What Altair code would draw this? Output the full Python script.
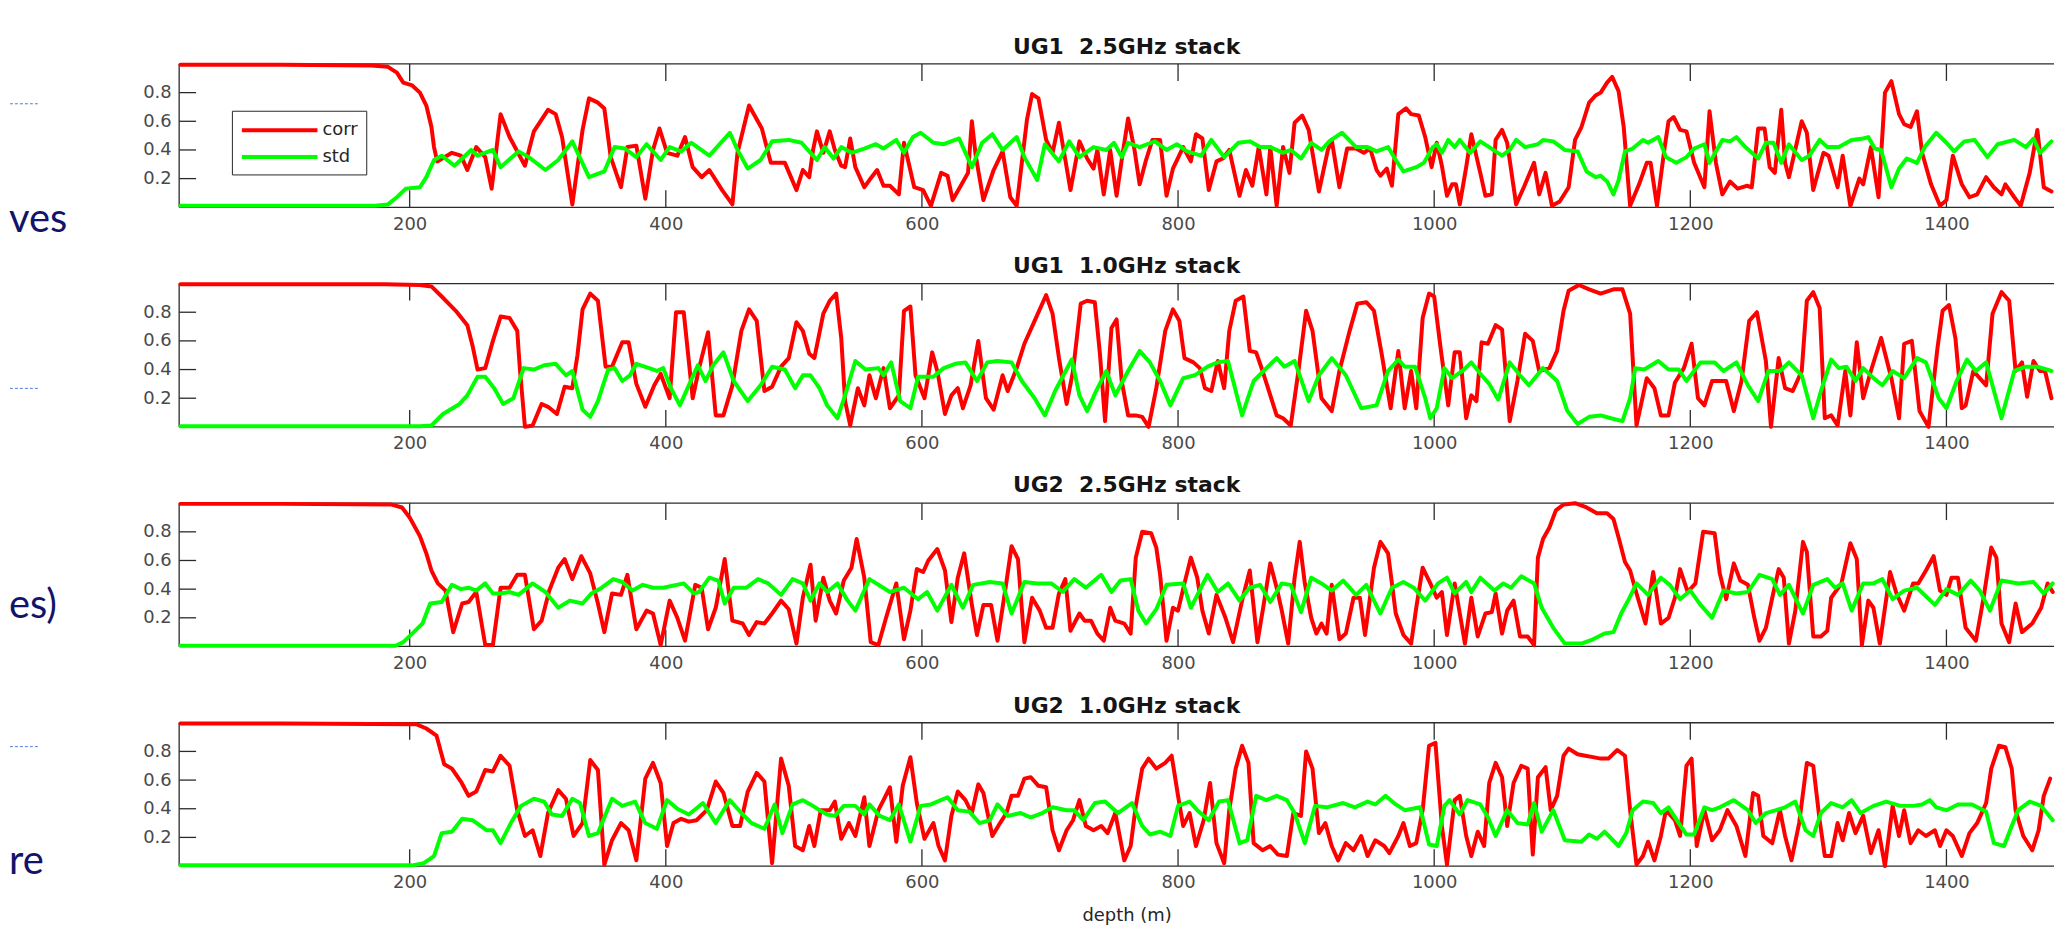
import altair as alt
import pandas as pd

# ---------------- data ----------------
X_DOMAIN = [20, 1484]
X_TICKS = [200, 400, 600, 800, 1000, 1200, 1400]
Y_TICKS = [0.2, 0.4, 0.6, 0.8]
TITLES = ["UG1\u00a0 2.5GHz stack", "UG1\u00a0 1.0GHz stack", "UG2\u00a0 2.5GHz stack", "UG2\u00a0 1.0GHz stack"]
SERIES = ["corr", "std"]
COLORS = ["#ff0000", "#00ff00"]
X_TITLE = "depth (m)"
SIDE_TEXT = ["ves", "es)", "re"]

# (depth, value) pairs
UG1_25_CORR = [(21, .995), (100, .995), (170, .99), (183, .98), (190, .94), (195, .87), (202, .85), (208, .80), (213, .71),
    (217, .56), (219, .42), (221.5, .32), (233, .38), (240, .36), (245, .26), (252, .42), (259, .35), (264, .13), (271, .65),
    (278, .49), (290, .29), (297, .53), (308, .68), (314, .65), (319, .49), (327, .02), (335, .54), (340, .76), (347, .73),
    (352, .69), (357, .35), (365, .14), (370, .42), (377, .43), (384, .06), (390, .40), (395, .55), (401, .38), (409, .36),
    (415, .49), (421, .28), (428, .21), (434, .26), (444, .12), (452, .02), (456, .38), (465, .71), (475, .55), (482, .31),
    (493, .31), (502, .12), (507, .26), (512, .21), (515, .40), (518, .53), (523, .38), (528, .53), (532, .40), (537, .29),
    (540, .28), (544, .48), (548, .28), (555, .14), (559, .19), (565, .26), (570, .15), (575, .15), (582, .09), (586, .45),
    (594, .14), (601, .12), (607, .01), (615, .24), (620, .22), (624, .05), (631, .16), (636, .24), (639, .60), (642, .36),
    (648, .05), (656, .26), (663, .39), (669, .07), (674, .01), (682, .61), (686, .79), (691, .76), (697, .47), (702, .38),
    (707, .59), (712, .33), (716, .12), (723, .46), (729, .34), (734, .27), (737, .40), (742, .09), (747, .40), (752, .08),
    (756, .33), (761, .62), (766, .40), (770, .16), (775, .33), (780, .47), (786, .47), (791, .08), (796, .27), (804, .42),
    (810, .32), (814, .51), (819, .48), (824, .12), (830, .32), (835, .34), (840, .40), (848, .08), (853, .26), (858, .15),
    (863, .42), (869, .09), (872, .42), (877, .01), (882, .42), (887, .24), (891, .59), (897, .64), (902, .54), (910, .11),
    (917, .40), (920, .47), (926, .14), (932, .41), (939, .41), (945, .38), (950, .41), (955, .26), (958, .22), (963, .27),
    (967, .15), (972, .65), (978, .69), (982, .65), (988, .64), (993, .49), (998, .28), (1002, .45), (1006, .29), (1010, .08),
    (1014, .16), (1017, .16), (1020, .02), (1025, .28), (1029, .51), (1036, .24), (1040, .08), (1045, .09), (1048, .47),
    (1053, .54), (1057, .45), (1064, .02), (1070, .14), (1078, .31), (1082, .09), (1087, .24), (1092, .01), (1098, .04),
    (1105, .14), (1110, .47), (1115, .56), (1121, .73), (1126, .78), (1130, .80), (1135, .87), (1139, .91), (1144, .81),
    (1148, .56), (1153, .01), (1160, .16), (1166, .31), (1169, .31), (1174, .01), (1180, .42), (1183, .60), (1187, .63),
    (1192, .54), (1197, .53), (1203, .31), (1211, .14), (1215, .67), (1220, .31), (1225, .09), (1231, .18), (1237, .13),
    (1244, .15), (1248, .14), (1253, .55), (1258, .55), (1262, .28), (1266, .24), (1271, .68), (1274, .31), (1277, .21),
    (1287, .60), (1291, .52), (1296, .12), (1304, .38), (1308, .36), (1315, .14), (1319, .36), (1325, .01), (1332, .20),
    (1335, .16), (1341, .42), (1347, .07), (1352, .80), (1357, .88), (1363, .65), (1367, .58), (1372, .56), (1377, .67),
    (1381, .38), (1388, .16), (1395, .01), (1400, .05), (1405, .36), (1412, .16), (1418, .07), (1424, .09), (1431, .21),
    (1437, .14), (1443, .09), (1446, .16), (1453, .07), (1458, .01), (1465, .24), (1471, .54), (1476, .14), (1482, .11)]

UG1_25_STD = [(21, .01), (100, .01), (173, .01), (183, .02), (190, .07), (197, .13), (208, .14), (213, .21), (219, .33),
    (225, .36), (235, .29), (241, .34), (248, .40), (253, .36), (265, .40), (271, .28), (285, .39), (293, .35), (306, .26),
    (316, .33), (327, .46), (340, .21), (352, .25), (360, .42), (368, .41), (377, .35), (385, .44), (396, .33), (403, .42),
    (412, .39), (420, .45), (434, .36), (444, .46), (450, .52), (456, .40), (464, .27), (474, .33), (483, .46), (496, .47),
    (506, .45), (513, .38), (518, .33), (524, .42), (531, .34), (537, .42), (545, .38), (555, .41), (564, .44), (570, .41),
    (580, .47), (586, .38), (593, .49), (599, .52), (609, .45), (617, .44), (629, .48), (639, .28), (647, .45), (655, .51),
    (663, .40), (674, .49), (680, .35), (690, .19), (696, .44), (707, .32), (715, .46), (723, .35), (734, .42), (744, .40),
    (750, .45), (756, .35), (761, .45), (770, .42), (782, .46), (791, .40), (799, .44), (807, .39), (818, .36), (826, .47),
    (836, .35), (847, .45), (856, .46), (864, .42), (872, .42), (882, .38), (888, .40), (896, .34), (904, .45), (912, .40),
    (918, .46), (928, .52), (939, .42), (948, .42), (955, .39), (964, .42), (970, .33), (976, .25), (986, .28), (992, .31),
    (999, .42), (1002, .44), (1006, .38), (1011, .47), (1016, .42), (1020, .47), (1028, .38), (1036, .46), (1043, .42),
    (1053, .36), (1059, .40), (1064, .47), (1071, .42), (1081, .44), (1085, .47), (1093, .46), (1102, .40), (1112, .39),
    (1119, .25), (1126, .21), (1130, .22), (1135, .18), (1140, .09), (1144, .19), (1149, .39), (1155, .41), (1163, .47),
    (1167, .45), (1175, .49), (1181, .35), (1189, .31), (1197, .35), (1203, .41), (1211, .44), (1215, .31), (1225, .47),
    (1231, .46), (1236, .49), (1243, .42), (1253, .34), (1259, .45), (1265, .45), (1271, .31), (1277, .44), (1287, .33),
    (1293, .36), (1301, .47), (1307, .42), (1316, .42), (1326, .47), (1335, .48), (1339, .49), (1344, .41), (1349, .40),
    (1357, .14), (1363, .27), (1369, .34), (1377, .31), (1383, .42), (1392, .52), (1400, .45), (1406, .39), (1414, .46),
    (1422, .47), (1432, .35), (1440, .44), (1453, .47), (1462, .42), (1468, .48), (1473, .38), (1482, .46)]

UG1_10_CORR = [(21, .995), (100, .995), (180, .995), (208, .99), (217, .98), (225, .91), (236, .81), (245, .71), (249, .57),
    (253, .40), (259, .41), (265, .60), (271, .77), (278, .76), (284, .67), (286, .41), (290, .00), (296, .01), (303, .16),
    (308, .14), (315, .09), (321, .28), (327, .27), (331, .50), (335, .82), (341, .93), (347, .88), (353, .42), (358, .42),
    (366, .59), (371, .59), (377, .30), (384, .14), (391, .29), (396, .37), (403, .20), (408, .80), (414, .80), (421, .20),
    (426, .41), (433, .66), (439, .08), (445, .08), (452, .29), (459, .67), (465, .82), (471, .74), (477, .25), (483, .28),
    (490, .42), (496, .48), (502, .73), (507, .67), (512, .51), (516, .48), (523, .79), (528, .88), (533, .93), (537, .62),
    (540, .18), (544, .01), (550, .27), (555, .15), (559, .36), (564, .20), (570, .41), (575, .13), (582, .22), (586, .81),
    (591, .84), (595, .36), (602, .20), (608, .52), (612, .39), (618, .09), (623, .22), (628, .27), (632, .13), (638, .29),
    (644, .60), (650, .20), (656, .12), (663, .36), (667, .25), (674, .41), (680, .58), (688, .74), (697, .92), (702, .79),
    (707, .48), (713, .16), (718, .39), (724, .86), (729, .88), (735, .87), (739, .51), (743, .04), (748, .69), (752, .75),
    (756, .32), (761, .08), (767, .08), (772, .07), (777, .00), (783, .27), (790, .67), (796, .82), (801, .74), (805, .48),
    (812, .45), (817, .41), (821, .27), (826, .25), (831, .46), (836, .27), (840, .67), (845, .88), (851, .91), (856, .53),
    (861, .52), (866, .39), (871, .25), (877, .08), (882, .06), (888, .01), (894, .39), (900, .81), (905, .67), (912, .20),
    (920, .11), (926, .39), (934, .67), (940, .86), (947, .87), (953, .81), (959, .51), (966, .13), (972, .53), (977, .13),
    (982, .39), (986, .13), (991, .76), (996, .93), (1000, .91), (1005, .55), (1011, .15), (1016, .52), (1020, .52),
    (1025, .06), (1029, .22), (1033, .18), (1037, .59), (1042, .58), (1048, .71), (1053, .68), (1059, .04), (1065, .32),
    (1071, .65), (1077, .60), (1082, .39), (1090, .41), (1096, .53), (1101, .81), (1105, .95), (1113, .99), (1121, .96),
    (1130, .93), (1140, .96), (1147, .96), (1153, .79), (1158, .01), (1166, .34), (1172, .27), (1177, .08), (1183, .08),
    (1188, .31), (1195, .41), (1201, .58), (1206, .20), (1211, .15), (1217, .32), (1222, .32), (1228, .32), (1234, .11),
    (1240, .32), (1246, .74), (1252, .80), (1259, .46), (1263, .00), (1269, .48), (1274, .27), (1280, .25), (1287, .39),
    (1291, .88), (1296, .94), (1301, .83), (1305, .06), (1310, .08), (1315, .01), (1321, .39), (1325, .08), (1330, .59),
    (1335, .20), (1341, .39), (1349, .62), (1357, .34), (1363, .06), (1367, .58), (1373, .60), (1379, .11), (1386, .00),
    (1393, .55), (1397, .81), (1402, .85), (1407, .62), (1412, .13), (1415, .15), (1421, .39), (1431, .29), (1436, .79),
    (1443, .94), (1449, .88), (1454, .39), (1459, .45), (1463, .21), (1468, .46), (1473, .39), (1477, .39), (1482, .20)]

UG1_10_STD = [(21, .005), (100, .005), (208, .005), (217, .01), (226, .09), (239, .16), (245, .22), (253, .35), (259, .35),
    (266, .27), (273, .16), (281, .20), (289, .41), (297, .40), (305, .43), (314, .44), (322, .36), (327, .39), (335, .12),
    (341, .07), (347, .18), (355, .40), (360, .41), (366, .32), (372, .36), (377, .44), (387, .41), (393, .39), (398, .41),
    (404, .27), (411, .15), (417, .27), (425, .43), (431, .32), (437, .43), (445, .52), (453, .32), (464, .18), (474, .29),
    (483, .42), (493, .40), (501, .27), (507, .36), (513, .36), (520, .27), (526, .15), (534, .06), (540, .22), (548, .46),
    (556, .40), (566, .41), (570, .36), (576, .45), (583, .18), (591, .13), (597, .35), (609, .35), (617, .41), (626, .44),
    (634, .45), (643, .32), (651, .45), (659, .46), (670, .45), (678, .32), (688, .20), (696, .08), (704, .25), (717, .47),
    (723, .22), (729, .11), (736, .25), (744, .39), (751, .22), (761, .39), (770, .53), (778, .45), (786, .32), (794, .15),
    (804, .34), (813, .36), (823, .42), (831, .45), (839, .46), (850, .08), (859, .32), (869, .41), (877, .48), (883, .42),
    (891, .46), (902, .18), (910, .36), (920, .48), (931, .36), (943, .13), (955, .15), (964, .39), (972, .47), (977, .42),
    (985, .42), (993, .20), (997, .06), (1002, .13), (1008, .41), (1014, .34), (1022, .39), (1029, .45), (1037, .36),
    (1043, .30), (1050, .19), (1059, .45), (1067, .36), (1074, .29), (1085, .41), (1096, .32), (1104, .11), (1112, .02),
    (1121, .07), (1130, .08), (1138, .06), (1147, .04), (1153, .20), (1157, .41), (1164, .40), (1175, .46), (1183, .40),
    (1191, .40), (1197, .32), (1208, .45), (1219, .45), (1226, .39), (1236, .45), (1245, .29), (1253, .18), (1261, .39),
    (1270, .39), (1277, .45), (1287, .36), (1296, .06), (1302, .25), (1310, .47), (1316, .41), (1322, .42), (1329, .32),
    (1335, .41), (1343, .34), (1350, .29), (1358, .39), (1367, .34), (1377, .48), (1384, .45), (1394, .20), (1400, .13),
    (1408, .32), (1416, .47), (1423, .39), (1431, .45), (1443, .06), (1453, .39), (1462, .42), (1471, .42), (1482, .39)]

UG2_25_CORR = [(21, .995), (100, .995), (186, .99), (194, .97), (200, .90), (208, .77), (213, .65), (217, .53), (222, .44),
    (228, .39), (234, .10), (241, .30), (246, .31), (252, .38), (259, .01), (265, .01), (271, .41), (278, .41), (284, .50),
    (290, .50), (297, .12), (303, .18), (309, .39), (316, .55), (321, .61), (327, .47), (334, .63), (341, .51), (347, .30),
    (352, .10), (358, .37), (365, .36), (370, .50), (377, .12), (385, .25), (390, .23), (396, .01), (403, .32), (409, .20),
    (415, .04), (423, .43), (428, .41), (433, .12), (439, .27), (446, .61), (452, .18), (460, .16), (465, .08), (471, .17),
    (477, .16), (483, .23), (490, .32), (496, .26), (502, .02), (507, .34), (513, .57), (517, .18), (523, .48), (528, .32),
    (533, .23), (539, .46), (545, .55), (549, .75), (555, .48), (560, .03), (566, .01), (572, .20), (580, .44), (586, .05),
    (591, .25), (596, .54), (601, .52), (605, .60), (612, .68), (618, .53), (623, .17), (628, .48), (633, .65), (639, .29),
    (643, .08), (648, .29), (654, .29), (659, .04), (665, .39), (670, .70), (675, .61), (680, .03), (686, .34), (692, .25),
    (697, .13), (702, .13), (707, .37), (712, .47), (716, .11), (723, .23), (727, .18), (732, .18), (737, .09), (742, .04),
    (747, .27), (751, .18), (758, .16), (763, .09), (767, .62), (772, .80), (779, .79), (783, .69), (786, .50), (791, .04),
    (796, .27), (800, .25), (805, .44), (810, .62), (815, .48), (819, .25), (824, .09), (830, .36), (837, .20), (843, .03),
    (850, .32), (856, .53), (862, .03), (867, .30), (872, .58), (877, .41), (881, .25), (886, .02), (891, .48), (895, .73),
    (899, .44), (904, .20), (908, .09), (912, .16), (916, .09), (920, .43), (926, .05), (931, .09), (937, .34), (942, .34),
    (946, .08), (953, .55), (958, .73), (964, .65), (970, .23), (976, .08), (982, .02), (986, .27), (991, .55), (997, .44),
    (1002, .34), (1006, .38), (1010, .08), (1016, .44), (1020, .23), (1024, .02), (1029, .34), (1034, .07), (1040, .23),
    (1045, .24), (1048, .37), (1053, .09), (1057, .25), (1062, .32), (1067, .07), (1073, .07), (1078, .01), (1081, .62),
    (1085, .75), (1090, .83), (1095, .95), (1101, .99), (1110, 1.0), (1119, .97), (1127, .93), (1135, .93), (1140, .89),
    (1144, .76), (1149, .59), (1153, .53), (1158, .37), (1165, .16), (1171, .52), (1177, .16), (1183, .20), (1188, .34),
    (1192, .54), (1198, .38), (1204, .44), (1210, .80), (1219, .79), (1223, .51), (1228, .33), (1234, .58), (1239, .46),
    (1245, .43), (1250, .20), (1254, .04), (1259, .13), (1264, .34), (1269, .54), (1273, .48), (1277, .02), (1282, .25),
    (1288, .73), (1291, .66), (1296, .07), (1302, .07), (1307, .11), (1310, .34), (1318, .44), (1325, .72), (1330, .61),
    (1334, .01), (1339, .32), (1343, .27), (1348, .02), (1356, .52), (1361, .37), (1367, .25), (1374, .44), (1378, .44),
    (1384, .53), (1390, .63), (1395, .39), (1400, .36), (1404, .48), (1409, .48), (1415, .13), (1423, .04), (1429, .34),
    (1435, .69), (1439, .62), (1443, .16), (1449, .03), (1454, .30), (1459, .10), (1467, .16), (1474, .27), (1479, .44),
    (1483, .38)]

UG2_25_STD = [(21, .005), (100, .005), (189, .005), (195, .03), (202, .09), (210, .16), (216, .30), (225, .31), (233, .43),
    (240, .40), (246, .41), (252, .39), (259, .44), (265, .37), (271, .37), (278, .38), (285, .36), (296, .44), (306, .38),
    (316, .27), (325, .32), (335, .30), (342, .37), (350, .41), (359, .47), (366, .45), (374, .39), (382, .43), (390, .41),
    (398, .41), (414, .44), (422, .37), (426, .38), (434, .48), (441, .46), (446, .30), (453, .41), (463, .41), (472, .47),
    (480, .44), (490, .36), (499, .47), (507, .44), (513, .32), (520, .44), (526, .38), (534, .44), (542, .32), (548, .25),
    (559, .47), (575, .38), (586, .41), (597, .33), (604, .38), (612, .25), (623, .43), (632, .27), (640, .43), (653, .45),
    (663, .44), (670, .23), (680, .45), (690, .44), (701, .44), (710, .38), (719, .47), (728, .41), (740, .50), (748, .38),
    (755, .46), (763, .47), (769, .25), (775, .16), (783, .26), (791, .43), (804, .44), (810, .27), (823, .50), (831, .38),
    (839, .44), (848, .32), (856, .41), (864, .43), (872, .31), (881, .44), (888, .43), (896, .24), (904, .48), (912, .44),
    (920, .39), (929, .46), (939, .36), (947, .43), (958, .23), (967, .41), (976, .45), (984, .41), (993, .32), (1003, .44),
    (1010, .48), (1016, .37), (1025, .45), (1029, .38), (1036, .48), (1047, .39), (1054, .44), (1060, .41), (1068, .49),
    (1078, .44), (1084, .27), (1093, .13), (1102, .02), (1115, .02), (1124, .05), (1133, .09), (1140, .10), (1146, .23),
    (1152, .33), (1158, .44), (1167, .36), (1177, .48), (1184, .43), (1192, .33), (1200, .39), (1208, .29), (1217, .20),
    (1226, .39), (1236, .37), (1245, .38), (1254, .50), (1264, .47), (1270, .36), (1277, .43), (1288, .23), (1296, .43),
    (1307, .47), (1313, .41), (1319, .44), (1326, .25), (1335, .44), (1343, .44), (1350, .47), (1358, .33), (1367, .39),
    (1377, .41), (1391, .29), (1400, .40), (1409, .36), (1419, .46), (1426, .39), (1434, .25), (1443, .46), (1456, .44),
    (1468, .45), (1476, .37), (1483, .44)]

UG2_10_CORR = [(21, .995), (100, .995), (205, .99), (213, .96), (221, .91), (227, .71), (233, .68), (240, .59), (246, .49),
    (252, .52), (259, .67), (265, .66), (271, .77), (278, .70), (284, .39), (290, .21), (296, .25), (302, .07), (308, .37),
    (316, .53), (322, .47), (328, .21), (335, .30), (341, .74), (347, .67), (352, .01), (358, .18), (365, .30), (371, .25),
    (377, .04), (384, .61), (390, .72), (396, .58), (401, .14), (406, .30), (412, .33), (418, .31), (424, .32), (432, .39),
    (439, .59), (445, .51), (452, .28), (458, .28), (464, .52), (471, .65), (477, .59), (483, .02), (490, .75), (496, .56),
    (501, .14), (507, .11), (512, .28), (516, .14), (521, .39), (528, .39), (532, .45), (537, .19), (543, .30), (548, .21),
    (555, .48), (559, .14), (566, .39), (570, .46), (575, .55), (580, .17), (585, .56), (591, .76), (596, .44), (602, .19),
    (609, .30), (613, .14), (618, .04), (623, .35), (628, .52), (634, .46), (639, .37), (644, .57), (648, .51), (655, .21),
    (661, .30), (666, .37), (670, .49), (675, .49), (680, .61), (685, .62), (691, .56), (697, .55), (702, .25), (707, .11),
    (713, .25), (718, .32), (723, .46), (728, .28), (734, .25), (740, .28), (745, .23), (751, .37), (758, .04), (763, .14),
    (767, .42), (772, .68), (777, .75), (783, .68), (790, .72), (795, .77), (800, .49), (804, .28), (809, .37), (814, .14),
    (820, .32), (825, .58), (830, .16), (836, .02), (840, .39), (845, .68), (850, .84), (855, .72), (859, .16), (866, .11),
    (872, .14), (878, .08), (885, .07), (890, .37), (896, .35), (900, .80), (905, .68), (910, .23), (915, .30), (920, .14),
    (925, .04), (931, .16), (937, .11), (943, .21), (948, .07), (954, .18), (961, .14), (965, .09), (972, .21), (976, .30),
    (981, .14), (986, .16), (991, .39), (996, .84), (1001, .86), (1006, .28), (1010, .01), (1016, .46), (1020, .49),
    (1025, .21), (1029, .07), (1034, .24), (1039, .14), (1043, .58), (1048, .72), (1053, .62), (1057, .28), (1062, .58),
    (1068, .70), (1073, .68), (1077, .08), (1081, .62), (1087, .69), (1091, .39), (1096, .49), (1101, .77), (1105, .82),
    (1112, .78), (1118, .77), (1124, .76), (1130, .75), (1136, .75), (1143, .81), (1149, .77), (1153, .39), (1158, .01),
    (1163, .07), (1167, .17), (1172, .04), (1177, .21), (1181, .39), (1188, .32), (1192, .21), (1197, .70), (1201, .75),
    (1205, .14), (1211, .39), (1217, .18), (1223, .25), (1229, .39), (1236, .28), (1243, .07), (1249, .51), (1253, .49),
    (1257, .21), (1264, .16), (1270, .39), (1274, .21), (1279, .04), (1285, .30), (1291, .72), (1296, .70), (1301, .32),
    (1305, .07), (1310, .07), (1315, .30), (1319, .18), (1324, .37), (1329, .23), (1335, .35), (1341, .09), (1347, .25),
    (1352, .00), (1358, .42), (1363, .21), (1367, .39), (1372, .16), (1378, .25), (1384, .21), (1391, .25), (1395, .14),
    (1400, .25), (1405, .21), (1412, .07), (1418, .23), (1424, .30), (1431, .44), (1435, .68), (1441, .84), (1446, .83),
    (1451, .68), (1454, .39), (1460, .21), (1467, .11), (1472, .25), (1476, .49), (1481, .61)]

UG2_10_STD = [(21, .005), (100, .005), (202, .005), (211, .02), (219, .07), (225, .23), (233, .24), (241, .33), (249, .32),
    (260, .25), (265, .25), (271, .16), (279, .30), (287, .42), (297, .47), (305, .45), (311, .36), (319, .35), (327, .47),
    (333, .44), (340, .21), (347, .23), (358, .47), (366, .42), (376, .45), (384, .30), (393, .26), (401, .46), (409, .40),
    (418, .36), (429, .44), (439, .30), (450, .46), (459, .37), (467, .30), (477, .26), (485, .43), (491, .23), (499, .43),
    (507, .46), (513, .43), (520, .39), (526, .36), (532, .35), (539, .42), (548, .42), (555, .36), (559, .43), (567, .35),
    (575, .32), (582, .43), (591, .17), (599, .42), (607, .43), (620, .48), (628, .39), (637, .38), (645, .30), (653, .32),
    (659, .43), (667, .35), (677, .37), (685, .34), (694, .37), (702, .41), (713, .39), (719, .39), (726, .32), (735, .44),
    (743, .45), (753, .37), (764, .44), (772, .28), (778, .22), (786, .24), (794, .21), (800, .42), (809, .45), (815, .39),
    (824, .32), (832, .45), (839, .46), (848, .16), (854, .18), (861, .49), (869, .46), (877, .49), (885, .46), (891, .37),
    (899, .16), (907, .42), (916, .41), (929, .44), (938, .41), (948, .45), (954, .43), (962, .49), (970, .43), (977, .39),
    (989, .41), (996, .15), (1002, .14), (1008, .42), (1012, .46), (1020, .36), (1026, .46), (1036, .43), (1042, .34),
    (1048, .21), (1057, .39), (1065, .30), (1073, .29), (1078, .44), (1084, .24), (1093, .39), (1102, .18), (1115, .17),
    (1121, .22), (1127, .19), (1133, .24), (1144, .14), (1150, .23), (1155, .39), (1163, .45), (1171, .44), (1177, .37),
    (1183, .41), (1191, .30), (1197, .22), (1203, .22), (1211, .41), (1217, .39), (1223, .41), (1234, .46), (1245, .39),
    (1251, .30), (1259, .37), (1267, .39), (1274, .41), (1282, .45), (1290, .25), (1296, .21), (1302, .37), (1310, .44),
    (1319, .41), (1326, .46), (1333, .37), (1343, .42), (1353, .45), (1364, .42), (1374, .42), (1381, .43), (1387, .46),
    (1392, .41), (1400, .39), (1409, .43), (1420, .43), (1431, .38), (1437, .16), (1445, .14), (1451, .28), (1456, .39),
    (1465, .45), (1474, .42), (1483, .32)]

PANELS = [(UG1_25_CORR, UG1_25_STD), (UG1_10_CORR, UG1_10_STD), (UG2_25_CORR, UG2_25_STD), (UG2_10_CORR, UG2_10_STD)]

# ---------------- styling / layout ----------------
W, H = 1884, 144
GAP = 76.67
FONT = "DejaVu Sans"
LABEL_COLOR = "#4a4a4a"
FRAME_COLOR = "#2b2b2b"
TICK_PX = 17
TICK_X = TICK_PX * (X_DOMAIN[1] - X_DOMAIN[0]) / W
TICK_Y = TICK_PX / H
NAVY = "#13136b"
DASH_BLUE = "#4f7fd6"

x_scale = alt.Scale(domain=X_DOMAIN, nice=False, zero=False)
y_scale = alt.Scale(domain=[0, 1], nice=False, zero=False)

legend = alt.Legend(
    title=None, orient="none", legendX=53, legendY=47, direction="vertical",
    symbolType="M-1,0L7,0", symbolSize=361, symbolStrokeWidth=4,
    labelFont=FONT, labelFontSize=18, labelColor="#262626", labelOffset=60,
    strokeColor="#262626", fillColor="white", padding=8, rowPadding=6,
)


def axes_for(last):
    x_kw = dict(values=X_TICKS, format="d", grid=False, domain=False, ticks=False, labelFont=FONT, labelFontSize=18,
                labelColor=LABEL_COLOR, labelPadding=8, labelFlush=False)
    if last:
        x_kw.update(title=X_TITLE, titleFont=FONT, titleFontSize=18, titleFontWeight="normal",
                    titleColor="#262626", titlePadding=15, titleX=952)
    else:
        x_kw.update(title=None)
    y_kw = dict(values=Y_TICKS, format=".1f", grid=False, domain=False, ticks=False, labelFont=FONT,
                labelFontSize=18, labelColor=LABEL_COLOR, labelPadding=8, title=None)
    return alt.Axis(**x_kw), alt.Axis(**y_kw)


def panel(idx, corr, std):
    rows = [{"depth": d, "value": v, "series": SERIES[0]} for d, v in corr]
    rows += [{"depth": d, "value": v, "series": SERIES[1]} for d, v in std]
    df = pd.DataFrame(rows)
    x_axis, y_axis = axes_for(idx == len(PANELS) - 1)

    hframe = alt.Chart(pd.DataFrame({"fy": [0.0, 1.0]})).mark_rule(color=FRAME_COLOR, strokeWidth=1.3).encode(
        y=alt.Y("fy:Q", scale=y_scale, axis=y_axis))
    vframe = alt.Chart(pd.DataFrame({"fx": [X_DOMAIN[0]]})).mark_rule(color=FRAME_COLOR, strokeWidth=1.3).encode(
        x=alt.X("fx:Q", scale=x_scale, axis=x_axis))
    xt = pd.DataFrame([{"tx": t, "ty1": 0.0, "ty2": TICK_Y} for t in X_TICKS] +
                      [{"tx": t, "ty1": 1 - TICK_Y, "ty2": 1.0} for t in X_TICKS])
    xticks = alt.Chart(xt).mark_rule(color=FRAME_COLOR, strokeWidth=1.3).encode(
        x=alt.X("tx:Q", scale=x_scale, axis=x_axis), y=alt.Y("ty1:Q", scale=y_scale, axis=y_axis), y2="ty2:Q")
    yt = pd.DataFrame([{"ty": t, "tx1": X_DOMAIN[0], "tx2": X_DOMAIN[0] + TICK_X} for t in Y_TICKS])
    yticks = alt.Chart(yt).mark_rule(color=FRAME_COLOR, strokeWidth=1.3).encode(
        y=alt.Y("ty:Q", scale=y_scale, axis=y_axis), x=alt.X("tx1:Q", scale=x_scale, axis=x_axis), x2="tx2:Q")
    lines = alt.Chart(df).mark_line(strokeWidth=4, strokeJoin="round", strokeCap="round").encode(
        x=alt.X("depth:Q", scale=x_scale, axis=x_axis),
        y=alt.Y("value:Q", scale=y_scale, axis=y_axis),
        color=alt.Color("series:N", scale=alt.Scale(domain=SERIES, range=COLORS), legend=legend),
    )

    layers = [hframe, vframe, xticks, yticks, lines]

    if idx == 0:
        # fragments of the slide text on the left (positions relative to the first plot)
        for txt, ry in zip(SIDE_TEXT, [157, 545, 802]):
            layers.append(alt.Chart(pd.DataFrame({"t": [txt]})).mark_text(
                align="left", baseline="middle", font="Lato", fontSize=40, color=NAVY).encode(
                text="t:N", x=alt.value(-171), y=alt.value(ry)))
        for ry in [40, 326, 686]:
            layers.append(alt.Chart(pd.DataFrame({"d": [0]})).mark_rule(
                color=DASH_BLUE, strokeWidth=1, strokeDash=[3, 2]).encode(
                x=alt.value(-220), x2=alt.value(-140), y=alt.value(ry)))

    return alt.layer(*layers).properties(
        width=W, height=H,
        title=alt.TitleParams(TITLES[idx], font=FONT, fontSize=22, fontWeight="bold", color="#151515",
                              offset=4, anchor="middle", dx=10),
    )


charts = [panel(i, c, s) for i, (c, s) in enumerate(PANELS)]
chart = alt.vconcat(*charts, spacing=GAP, bounds="flush").properties(
    padding={"left": -49, "top": 25, "right": 0, "bottom": 0},
    background="white",
).configure_view(stroke=None)

chart.save("out.html", embed_options={"renderer": "svg", "actions": False})
